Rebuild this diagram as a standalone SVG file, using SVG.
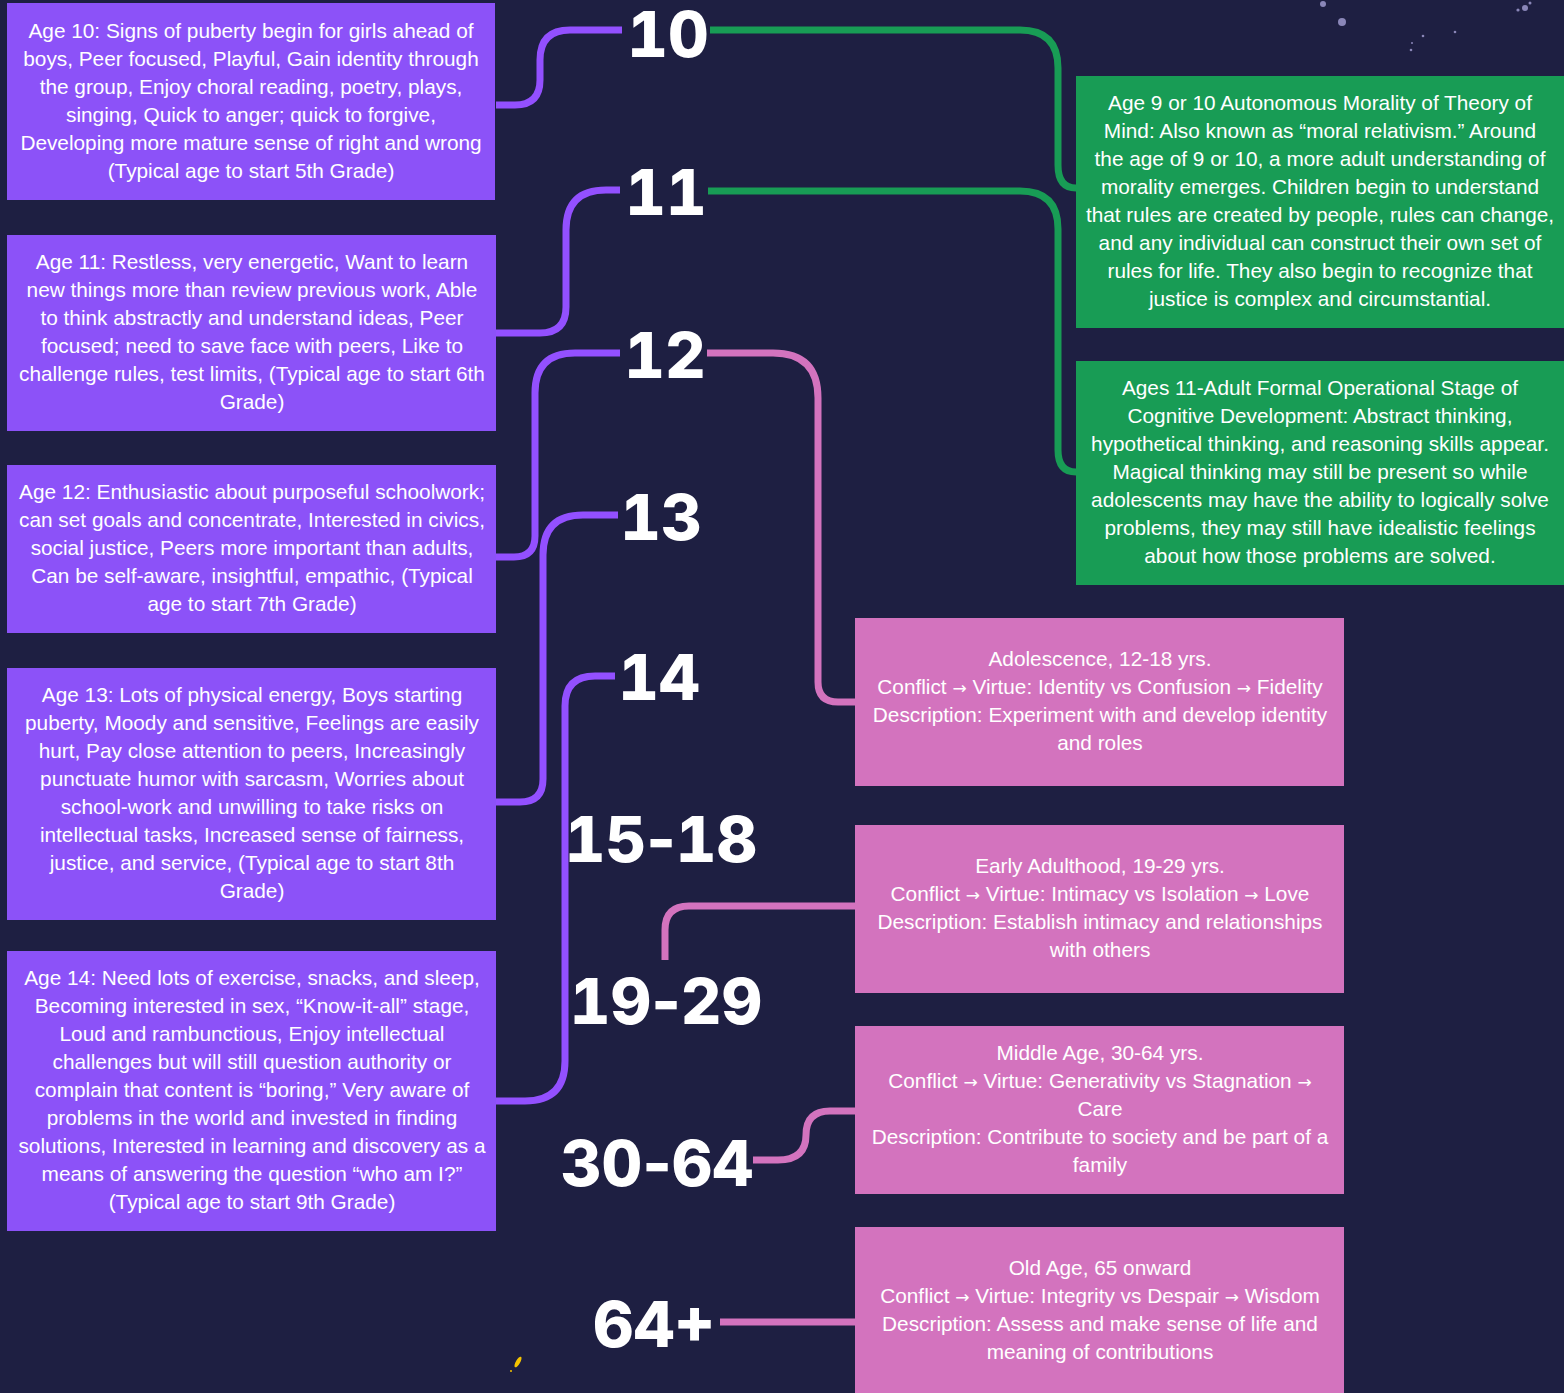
<svg xmlns="http://www.w3.org/2000/svg" width="1564" height="1393" viewBox="0 0 1564 1393">
<style>
.bg{fill:#1e1f42}
.pu{fill:#8c52f8}
.gr{fill:#189c55}
.pk{fill:#d373be}
.t{font-family:"Liberation Sans",Arial,sans-serif;font-size:20.8px;fill:#ffffff;text-anchor:middle}
.ar{font-family:"DejaVu Sans",sans-serif;font-size:17px}
.n{font-family:Inter,"Open Sans",sans-serif;font-weight:800;font-size:63px;fill:#ffffff;text-anchor:middle;font-variant-numeric:tabular-nums;font-feature-settings:"tnum" 1}
.h{font-variant-numeric:normal;font-feature-settings:"tnum" 0}
.c{fill:none;stroke-width:7}
.cp{stroke:#9350ff}
.cg{stroke:#189c55}
.ck{stroke:#d373be}
.star{fill:#8a86b8}
</style>
<rect class="bg" x="0" y="0" width="1564" height="1393"/>
<g id="decor">
<circle class="star" cx="1323" cy="4" r="3"/>
<circle class="star" cx="1342" cy="22" r="4"/>
<circle class="star" cx="1525" cy="8" r="3"/>
<circle class="star" cx="1518" cy="10" r="1.6"/>
<circle class="star" cx="1530" cy="3" r="1.5"/>
<circle class="star" cx="1423" cy="36" r="1.3"/>
<circle class="star" cx="1455" cy="32" r="1.3"/>
<circle class="star" cx="1411" cy="50" r="1.3"/>
<circle class="star" cx="1412" cy="43" r="1"/>
<ellipse cx="518" cy="1362" rx="2.2" ry="6" transform="rotate(30 518 1362)" fill="#f5c400"/>
<circle cx="511" cy="1371" r="1" fill="#f5c400"/>
</g>
<g id="connectors">
<path class="c cp" d="M496,105 H515 Q540,105 540,80 V60 Q540,30 570,30 H622"/>
<path class="c cg" d="M710,30 H1020 Q1058,30 1058,68 V165 Q1058,188 1076,188"/>
<path class="c cp" d="M496,333 H540 Q566,333 566,307 V230 Q566,190 606,190 H620"/>
<path class="c cg" d="M708,191 H1020 Q1058,191 1058,229 V450 Q1058,472 1076,472"/>
<path class="c cp" d="M496,557 H514 Q535,557 535,536 V393 Q535,353 575,353 H620"/>
<path class="c ck" d="M707,353 H773 Q818,353 818,398 V682 Q818,702 838,702 H855"/>
<path class="c cp" d="M496,802 H520 Q543,802 543,779 V555 Q543,515 583,515 H618"/>
<path class="c cp" d="M496,1101 H525 Q565,1101 565,1061 V706 Q565,676 595,676 H615"/>
<path class="c ck" d="M665,960 V930 Q665,906 689,906 H855"/>
<path class="c ck" d="M753,1160 H778 Q806,1160 806,1135 Q806,1111 830,1111 H855"/>
<path class="c ck" d="M720,1322 H855"/>
</g>
<g id="labels">
<text class="n" x="668" y="57">10</text>
<text class="n" x="666" y="215">11</text>
<text class="n" x="665" y="378">12</text>
<text class="n" x="661" y="540">13</text>
<text class="n" x="659" y="700">14</text>
<text class="n" x="661" y="862">15<tspan class="h">-</tspan>18</text>
<text class="n" x="666" y="1024">19<tspan class="h">-</tspan>29</text>
<text class="n" x="657" y="1186">30<tspan class="h">-</tspan>64</text>
<text class="n" x="654" y="1347">64+</text>
</g>
<g id="age10">
<rect class="pu" x="7" y="3" width="488" height="197"/>
<text class="t" x="251" y="38">Age 10: Signs of puberty begin for girls ahead of</text>
<text class="t" x="251" y="66">boys, Peer focused, Playful, Gain identity through</text>
<text class="t" x="251" y="94">the group, Enjoy choral reading, poetry, plays,</text>
<text class="t" x="251" y="122">singing, Quick to anger; quick to forgive,</text>
<text class="t" x="251" y="150">Developing more mature sense of right and wrong</text>
<text class="t" x="251" y="178">(Typical age to start 5th Grade)</text>
</g>
<g id="age11">
<rect class="pu" x="7" y="235" width="489" height="196"/>
<text class="t" x="252" y="269">Age 11: Restless, very energetic, Want to learn</text>
<text class="t" x="252" y="297">new things more than review previous work, Able</text>
<text class="t" x="252" y="325">to think abstractly and understand ideas, Peer</text>
<text class="t" x="252" y="353">focused; need to save face with peers, Like to</text>
<text class="t" x="252" y="381">challenge rules, test limits, (Typical age to start 6th</text>
<text class="t" x="252" y="409">Grade)</text>
</g>
<g id="age12">
<rect class="pu" x="7" y="465" width="489" height="168"/>
<text class="t" x="252" y="499">Age 12: Enthusiastic about purposeful schoolwork;</text>
<text class="t" x="252" y="527">can set goals and concentrate, Interested in civics,</text>
<text class="t" x="252" y="555">social justice, Peers more important than adults,</text>
<text class="t" x="252" y="583">Can be self-aware, insightful, empathic, (Typical</text>
<text class="t" x="252" y="611">age to start 7th Grade)</text>
</g>
<g id="age13">
<rect class="pu" x="7" y="668" width="489" height="252"/>
<text class="t" x="252" y="702">Age 13: Lots of physical energy, Boys starting</text>
<text class="t" x="252" y="730">puberty, Moody and sensitive, Feelings are easily</text>
<text class="t" x="252" y="758">hurt, Pay close attention to peers, Increasingly</text>
<text class="t" x="252" y="786">punctuate humor with sarcasm, Worries about</text>
<text class="t" x="252" y="814">school-work and unwilling to take risks on</text>
<text class="t" x="252" y="842">intellectual tasks, Increased sense of fairness,</text>
<text class="t" x="252" y="870">justice, and service, (Typical age to start 8th</text>
<text class="t" x="252" y="898">Grade)</text>
</g>
<g id="age14">
<rect class="pu" x="7" y="951" width="489" height="280"/>
<text class="t" x="252" y="985">Age 14: Need lots of exercise, snacks, and sleep,</text>
<text class="t" x="252" y="1013">Becoming interested in sex, “Know-it-all” stage,</text>
<text class="t" x="252" y="1041">Loud and rambunctious, Enjoy intellectual</text>
<text class="t" x="252" y="1069">challenges but will still question authority or</text>
<text class="t" x="252" y="1097">complain that content is “boring,” Very aware of</text>
<text class="t" x="252" y="1125">problems in the world and invested in finding</text>
<text class="t" x="252" y="1153">solutions, Interested in learning and discovery as a</text>
<text class="t" x="252" y="1181">means of answering the question “who am I?”</text>
<text class="t" x="252" y="1209">(Typical age to start 9th Grade)</text>
</g>
<g id="autonomous-morality">
<rect class="gr" x="1076" y="76" width="488" height="252"/>
<text class="t" x="1320" y="110">Age 9 or 10 Autonomous Morality  of Theory of</text>
<text class="t" x="1320" y="138">Mind: Also known as “moral relativism.” Around</text>
<text class="t" x="1320" y="166">the age of 9 or 10, a more adult understanding of</text>
<text class="t" x="1320" y="194">morality emerges. Children begin to understand</text>
<text class="t" x="1320" y="222">that rules are created by people, rules can change,</text>
<text class="t" x="1320" y="250">and any individual can construct their own set of</text>
<text class="t" x="1320" y="278">rules for life. They also begin to recognize that</text>
<text class="t" x="1320" y="306">justice is complex and circumstantial.</text>
</g>
<g id="formal-operational">
<rect class="gr" x="1076" y="361" width="488" height="224"/>
<text class="t" x="1320" y="395">Ages 11-Adult Formal Operational Stage of</text>
<text class="t" x="1320" y="423">Cognitive Development: Abstract thinking,</text>
<text class="t" x="1320" y="451">hypothetical thinking, and reasoning skills appear.</text>
<text class="t" x="1320" y="479">Magical thinking may still be present so while</text>
<text class="t" x="1320" y="507">adolescents may have the ability to logically solve</text>
<text class="t" x="1320" y="535">problems, they may still have idealistic feelings</text>
<text class="t" x="1320" y="563">about how those problems are solved.</text>
</g>
<g id="adolescence">
<rect class="pk" x="855" y="618" width="489" height="168"/>
<text class="t" x="1100" y="666">Adolescence, 12-18 yrs.</text>
<text class="t" x="1100" y="694">Conflict <tspan class="ar">→</tspan> Virtue: Identity vs Confusion <tspan class="ar">→</tspan> Fidelity</text>
<text class="t" x="1100" y="722">Description: Experiment with and develop identity</text>
<text class="t" x="1100" y="750">and roles</text>
</g>
<g id="early-adulthood">
<rect class="pk" x="855" y="825" width="489" height="168"/>
<text class="t" x="1100" y="873">Early Adulthood, 19-29 yrs.</text>
<text class="t" x="1100" y="901">Conflict <tspan class="ar">→</tspan> Virtue: Intimacy vs Isolation <tspan class="ar">→</tspan> Love</text>
<text class="t" x="1100" y="929">Description: Establish intimacy and relationships</text>
<text class="t" x="1100" y="957">with others</text>
</g>
<g id="middle-age">
<rect class="pk" x="855" y="1026" width="489" height="168"/>
<text class="t" x="1100" y="1060">Middle Age, 30-64 yrs.</text>
<text class="t" x="1100" y="1088">Conflict <tspan class="ar">→</tspan> Virtue: Generativity vs Stagnation <tspan class="ar">→</tspan></text>
<text class="t" x="1100" y="1116">Care</text>
<text class="t" x="1100" y="1144">Description: Contribute to society and be part of a</text>
<text class="t" x="1100" y="1172">family</text>
</g>
<g id="old-age">
<rect class="pk" x="855" y="1227" width="489" height="166"/>
<text class="t" x="1100" y="1275">Old Age, 65 onward</text>
<text class="t" x="1100" y="1303">Conflict <tspan class="ar">→</tspan> Virtue: Integrity vs Despair <tspan class="ar">→</tspan> Wisdom</text>
<text class="t" x="1100" y="1331">Description: Assess and make sense of life and</text>
<text class="t" x="1100" y="1359">meaning of contributions</text>
</g>
</svg>
